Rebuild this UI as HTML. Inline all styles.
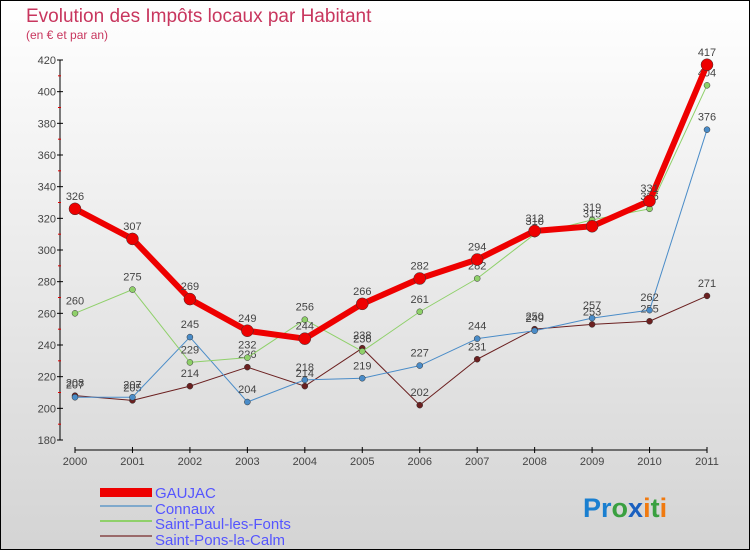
<!DOCTYPE html>
<html><head><meta charset="utf-8"><style>
body{margin:0;width:750px;height:550px;overflow:hidden;font-family:"Liberation Sans",sans-serif}
#wrap{position:absolute;left:0;top:0;width:748px;height:548px;border:1px solid #000;background:linear-gradient(#fff,#d4d4d4)}
</style></head><body>
<div id="wrap">
<svg id="chart" width="750" height="550" style="position:absolute;left:-1px;top:-1px">
<text x="26" y="22" font-size="19" fill="#c8365e">Evolution des Impôts locaux par Habitant</text>
<text x="26" y="39" font-size="12" fill="#c8365e">(en € et par an)</text>
<g id="axes"></g><g id="series"></g>
<g>
<rect x="100" y="488" width="52" height="9" fill="#e00"/>
<text x="155" y="498" font-size="15" fill="#55f">GAUJAC</text>
<rect x="100" y="505" width="52" height="2" fill="#7fa9cc"/>
<text x="155" y="514" font-size="15" fill="#55f">Connaux</text>
<rect x="100" y="520" width="52" height="2" fill="#8fd06a"/>
<text x="155" y="529" font-size="15" fill="#55f">Saint-Paul-les-Fonts</text>
<rect x="100" y="535" width="52" height="2" fill="#9a6a6a"/>
<text x="155" y="545" font-size="15" fill="#55f">Saint-Pons-la-Calm</text>
</g>
<text x="583" y="517" font-size="27" font-weight="bold"><tspan fill="#1a7fd0">Pr</tspan><tspan fill="#3aa040">o</tspan><tspan fill="#1a60c0">x</tspan><tspan fill="#f07a10">i</tspan><tspan fill="#3aa040">t</tspan><tspan fill="#f07a10">i</tspan></text>
</svg></div>
<script>
const years=[2000,2001,2002,2003,2004,2005,2006,2007,2008,2009,2010,2011];
const gaujac=[326,307,269,249,244,266,282,294,312,315,331,417];
const connaux=[207,207,245,204,218,219,227,244,249,257,262,376];
const saintPaul=[260,275,229,232,256,236,261,282,310,319,326,404];
const saintPons=[208,205,214,226,214,238,202,231,250,253,255,271];
const yTicks=[180,200,220,240,260,280,300,320,340,360,380,400,420];
const NS="http://www.w3.org/2000/svg";
const x=i=>75+i*(707-75)/11;
const y=v=>440-(v-180)*380/240;
function mk(tag,attrs,parent,txt){const e=document.createElementNS(NS,tag);for(const k in attrs)e.setAttribute(k,attrs[k]);if(txt!==undefined)e.textContent=txt;parent.appendChild(e);return e;}
const ax=document.getElementById('axes');
let yl=mk('line',{x1:60,y1:y(180),x2:60,y2:y(420),stroke:'#000'},ax);


yTicks.forEach(t=>{mk('line',{x1:57,x2:63,y1:y(t),y2:y(t),stroke:'#000'},ax);
 if(t<420)mk('line',{x1:58,x2:61,y1:y(t+10),y2:y(t+10),stroke:'#d00'},ax);
 const l=mk('text',{x:56,y:y(t)+4,'font-size':11,fill:'#444','text-anchor':'end'},ax,t);
 
 });
let xl=mk('line',{x1:x(0),y1:450,x2:x(11),y2:450,stroke:'#000'},ax);


years.forEach((yr,i)=>{mk('line',{x1:x(i),x2:x(i),y1:447,y2:453,stroke:'#000'},ax);
 const l=mk('text',{x:x(i),y:465,'font-size':11,fill:'#444','text-anchor':'middle'},ax,yr);
 
 });
const sg=document.getElementById('series');
function draw(vals,color,w,r,name){
 const g=mk('g',{},sg);
 
 
 mk('polyline',{points:vals.map((v,i)=>x(i)+','+y(v)).join(' '),fill:'none',stroke:color,'stroke-width':w,'stroke-linejoin':'round'},g);
 vals.forEach((v,i)=>{const c=mk('circle',{cx:x(i),cy:y(v),r:r,fill:color,stroke:'#333','stroke-width':0.5},g);
  
  
  const t=mk('text',{x:x(i),y:y(v)-9,'font-size':11,fill:'#444','text-anchor':'middle'},g,v);
  
  });
}
draw(saintPons,'#6b2020',1,3,'series-saint-pons');
draw(connaux,'#4a8cc8',1,3,'series-connaux');
draw(saintPaul,'#8fd06a',1,3,'series-saint-paul');
draw(gaujac,'#e00',6,6,'series-gaujac');
</script>
</body></html>
